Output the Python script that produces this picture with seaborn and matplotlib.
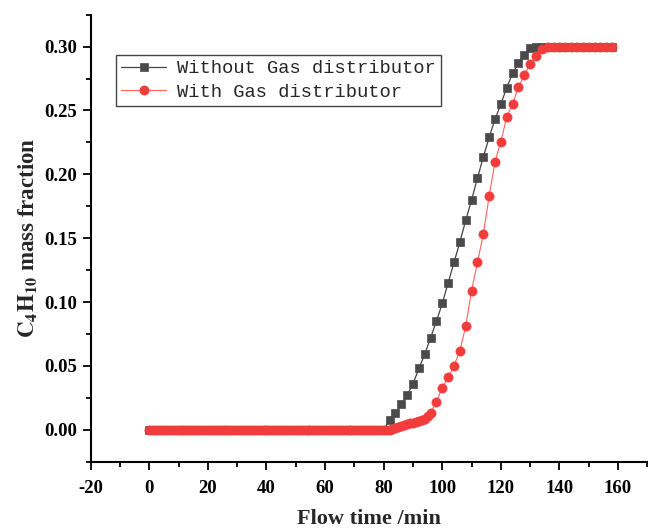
import matplotlib
matplotlib.use("Agg")
import matplotlib.pyplot as plt
from matplotlib.ticker import MultipleLocator, FormatStrFormatter
import numpy as np
import pandas as pd
import seaborn as sns

# Sampling times (min) and C4H10 outlet mass fraction, case without gas distributor
black_t = list(range(0, 160, 2))
black_frac = (
    [0.0] * 41
    + [0.008, 0.013, 0.020, 0.027, 0.036, 0.048, 0.059, 0.072, 0.085, 0.099,
       0.115, 0.131, 0.147, 0.164, 0.180, 0.197, 0.2135, 0.229, 0.243, 0.255,
       0.268, 0.279, 0.287, 0.2937, 0.299]
    + [0.300] * 14
)

# Case with gas distributor: finer sampling before breakthrough
red_t = list(range(0, 97, 1)) + list(range(98, 160, 2))
red_frac = (
    [0.0] * 83
    + [0.0005, 0.0012, 0.0020, 0.0028, 0.0036, 0.0043, 0.0050, 0.0056, 0.0062,
       0.0069, 0.0077, 0.0088, 0.0105, 0.0135]
    + [0.022, 0.033, 0.041, 0.050, 0.062, 0.081, 0.109, 0.131, 0.153, 0.183,
       0.210, 0.2255, 0.245, 0.255, 0.2685, 0.2776, 0.2865, 0.293, 0.2984]
    + [0.300] * 12
)

series_names = ["Without Gas distributor", "With Gas distributor"]
x_ticks = [-20, 0, 20, 40, 60, 80, 100, 120, 140, 160]
y_ticks = [0.00, 0.05, 0.10, 0.15, 0.20, 0.25, 0.30]

sns.set_style("ticks")
plt.rcParams["font.family"] = ["Liberation Serif", "DejaVu Serif"]
plt.rcParams["mathtext.fontset"] = "stix"
plt.rcParams["axes.unicode_minus"] = False

fig = plt.figure(figsize=(6.48, 5.29), dpi=100)
ax = fig.add_axes([0.140, 0.1272, 0.859, 0.845])

df_black = pd.DataFrame({"t": black_t, "frac": black_frac})
df_red = pd.DataFrame({"t": red_t, "frac": red_frac})

sns.lineplot(data=df_black, x="t", y="frac", ax=ax, estimator=None, sort=False,
             color="#444444", linewidth=0.9, marker="s", markersize=5.8,
             markerfacecolor="#4a4a4a", markeredgecolor="#4a4a4a",
             markeredgewidth=0.5, label=series_names[0], legend=False)
sns.lineplot(data=df_red, x="t", y="frac", ax=ax, estimator=None, sort=False,
             color="#ff6060", linewidth=0.8, marker="o", markersize=6.6,
             markerfacecolor="#f23c3c", markeredgecolor="#f23c3c",
             markeredgewidth=0.5, label=series_names[1], legend=False)

ax.set_xlim(-20, 170)
ax.set_ylim(-0.025, 0.325)
ax.set_xticks(x_ticks)
ax.set_yticks(y_ticks)
ax.xaxis.set_minor_locator(MultipleLocator(10))
ax.yaxis.set_minor_locator(MultipleLocator(0.025))
ax.yaxis.set_major_formatter(FormatStrFormatter("%.2f"))

for side in ("top", "right"):
    ax.spines[side].set_visible(False)
for side in ("left", "bottom"):
    ax.spines[side].set_linewidth(1.5)
    ax.spines[side].set_color("black")

ax.tick_params(axis="both", which="major", direction="out", length=5.5,
               width=1.3, colors="black")
ax.tick_params(axis="y", which="major", pad=4.5)
ax.tick_params(axis="x", which="major", pad=7.5)
ax.tick_params(axis="both", which="minor", direction="out", length=3.3,
               width=1.3, colors="black")
for lab in ax.get_xticklabels() + ax.get_yticklabels():
    lab.set_fontsize(13.5)
    lab.set_fontweight("bold")

ax.set_xlabel("Flow time /min", fontsize=16, fontweight="bold", labelpad=9)
ax.set_ylabel(r"$\mathbf{C_4H_{10}}$ mass fraction", fontsize=16.5,
              fontweight="bold", labelpad=3)

leg = ax.legend(handles=ax.lines[:2], labels=series_names,
                loc="upper left", bbox_to_anchor=(0.0454, 0.91),
                borderaxespad=0, frameon=True, fancybox=False, shadow=False,
                prop={"family": "Liberation Mono", "size": 13.5},
                handlelength=2.4, handletextpad=0.6, labelspacing=0.35,
                borderpad=0.28)
leg.get_frame().set_edgecolor("#444444")
leg.get_frame().set_linewidth(1.0)
leg.get_frame().set_facecolor("white")
leg.get_frame().set_alpha(1.0)

fig.savefig("out.png", dpi=100)
